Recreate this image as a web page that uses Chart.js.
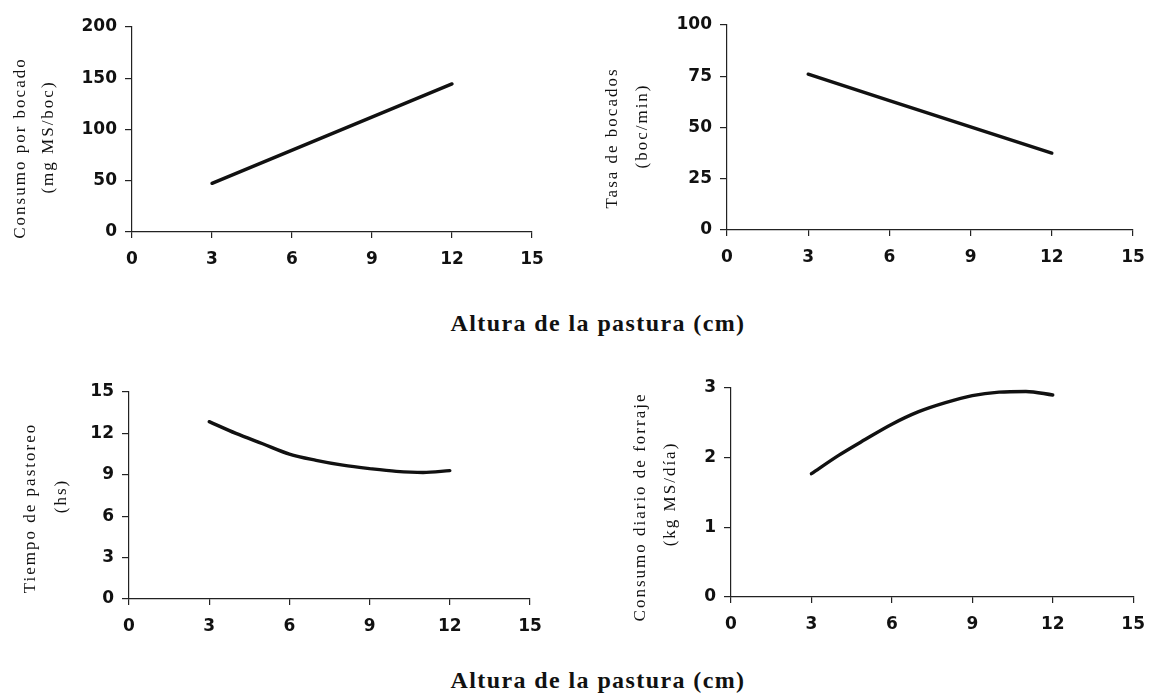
<!DOCTYPE html>
<html lang="es">
<head>
<meta charset="utf-8">
<title>Altura de la pastura</title>
<script src="https://cdn.jsdelivr.net/npm/chart.js@4.4.1/dist/chart.umd.min.js"></script>
<style>
  html, body { margin: 0; padding: 0; background: #fff; }
  body { width: 1156px; height: 695px; position: relative; overflow: hidden; }
  .panel { position: absolute; }
  .xtitle {
    position: absolute; left: 0; width: 1196px; text-align: center;
    font-family: "Liberation Serif", "DejaVu Serif", serif; font-weight: bold;
    font-size: 24px; line-height: 24px; letter-spacing: 1.4px; color: #111;
  }
</style>
</head>
<body>
<div class="panel" id="p1" style="left:0px;top:0px;width:560px;height:300px"><canvas id="c1"></canvas></div>
<div class="panel" id="p2" style="left:580px;top:0px;width:576px;height:300px"><canvas id="c2"></canvas></div>
<div class="panel" id="p3" style="left:0px;top:350px;width:560px;height:300px"><canvas id="c3"></canvas></div>
<div class="panel" id="p4" style="left:580px;top:350px;width:576px;height:300px"><canvas id="c4"></canvas></div>
<div class="xtitle" style="top:311px">Altura de la pastura (cm)</div>
<div class="xtitle" style="top:668px">Altura de la pastura (cm)</div>
<script>
// Pasture height (cm) for the linear fits (top row)
const alturaRecta = [3, 12];
// Intake per bite (mg MS/boc) and bite rate (boc/min)
const consumoPorBocado = [47.5, 144.5];
const tasaDeBocados = [76, 37.5];

// Pasture height (cm) for the curved fits (bottom row)
const alturaCurva = [3, 4, 5, 6, 7, 8, 9, 10, 11, 12];
// Grazing time (hs) and daily forage intake (kg MS/día)
const tiempoDePastoreo = [12.85, 12.0, 11.25, 10.5, 10.05, 9.7, 9.45, 9.25, 9.17, 9.3];
const consumoDiario = [1.77, 2.03, 2.26, 2.48, 2.66, 2.79, 2.89, 2.94, 2.95, 2.9];

// Axis ticks
const xTicks = [0, 3, 6, 9, 12, 15];
const yTicks1 = [0, 50, 100, 150, 200];
const yTicks2 = [0, 25, 50, 75, 100];
const yTicks3 = [0, 3, 6, 9, 12, 15];
const yTicks4 = [0, 1, 2, 3];

// Two-line rotated y titles
const yTitle1 = ['Consumo por bocado', '(mg MS/boc)'];
const yTitle2 = ['Tasa de bocados', '(boc/min)'];
const yTitle3 = ['Tiempo de pastoreo', '(hs)'];
const yTitle4 = ['Consumo diario de forraje', '(kg MS/día)'];

const tickFont = { family: '"DejaVu Sans", sans-serif', size: 17, weight: 'bold' };

// Draws the rotated, letter-spaced y title next to the value axis
const yTitlePlugin = {
  id: 'yTitle',
  afterDraw(chart, args, opts) {
    const ctx = chart.ctx;
    const area = chart.chartArea;
    const cy = (area.top + area.bottom) / 2;
    ctx.save();
    ctx.fillStyle = '#111';
    ctx.font = '17px "Liberation Serif", "DejaVu Serif", serif';
    if ('letterSpacing' in ctx) ctx.letterSpacing = '2px';
    ctx.textAlign = 'center';
    ctx.textBaseline = 'middle';
    opts.lines.forEach((line, i) => {
      ctx.save();
      ctx.translate(area.left + opts.dx[i], cy + opts.dy[i]);
      ctx.rotate(-Math.PI / 2);
      ctx.fillText(line, 0, 0);
      ctx.restore();
    });
    ctx.restore();
  }
};

function makePanel(id, xs, ys, yMax, yTickVals, title, axisW, pad, dx, dy) {
  const pts = xs.map((x, i) => ({ x: x, y: ys[i] }));
  return new Chart(document.getElementById(id), {
    type: 'line',
    data: {
      datasets: [{
        data: pts,
        borderColor: '#111',
        borderWidth: 3.4,
        pointRadius: 0,
        fill: false,
        tension: 0.4,
        cubicInterpolationMode: 'monotone',
        borderCapStyle: 'round'
      }]
    },
    plugins: [yTitlePlugin],
    options: {
      responsive: true,
      maintainAspectRatio: false,
      animation: false,
      events: [],
      layout: { padding: pad },
      plugins: {
        legend: { display: false },
        tooltip: { enabled: false },
        yTitle: { lines: title, dx: dx, dy: dy }
      },
      scales: {
        x: {
          type: 'linear',
          min: 0, max: 15,
          afterBuildTicks: (s) => { s.ticks = xTicks.map(v => ({ value: v })); },
          afterFit: (s) => { s.height = 45; },
          border: { color: '#222', width: 1.2 },
          grid: { drawOnChartArea: false, drawTicks: true, tickLength: 6, color: '#222', lineWidth: 1.2 },
          ticks: { font: tickFont, color: '#111', padding: 11, maxRotation: 0 }
        },
        y: {
          type: 'linear',
          min: 0, max: yMax,
          afterBuildTicks: (s) => { s.ticks = yTickVals.map(v => ({ value: v })); },
          afterFit: (s) => { s.width = axisW; },
          border: { color: '#222', width: 1.2 },
          grid: { drawOnChartArea: false, drawTicks: true, tickLength: 7, color: '#222', lineWidth: 1.2 },
          ticks: { font: tickFont, color: '#111', padding: 8 }
        }
      }
    }
  });
}

makePanel('c1', alturaRecta, consumoPorBocado, 200, yTicks1, yTitle1, 132,
  { left: 0, top: 27, right: 28, bottom: 23 }, [-111, -83], [18.5, 7.5]);
makePanel('c2', alturaRecta, tasaDeBocados, 100, yTicks2, yTitle2, 147,
  { left: 0, top: 25, right: 23, bottom: 25 }, [-114, -84], [10.5, -1.5]);
makePanel('c3', alturaCurva, tiempoDePastoreo, 15, yTicks3, yTitle3, 129,
  { left: 0, top: 42, right: 30, bottom: 6 }, [-98, -67], [12.5, 0.5]);
makePanel('c4', alturaCurva, consumoDiario, 3, yTicks4, yTitle4, 151,
  { left: 0, top: 38, right: 21, bottom: 8 }, [-90, -60], [14.5, 1.5]);
</script>
</body>
</html>
